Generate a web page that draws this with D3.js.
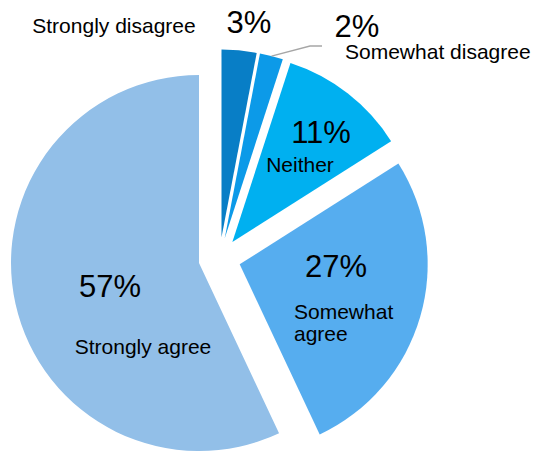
<!DOCTYPE html>
<html>
<head>
<meta charset="utf-8">
<script src="https://cdn.jsdelivr.net/npm/d3@7/dist/d3.min.js"></script>
<style>
  html, body { margin: 0; padding: 0; background: #ffffff; }
  svg { display: block; }
  text { font-family: "Liberation Sans", Arial, sans-serif; fill: #000000; }
</style>
</head>
<body>
<svg id="chart" width="535" height="452"></svg>
<script>
// Survey responses, clockwise from 12 o'clock
const categories = ["Strongly disagree", "Somewhat disagree", "Neither", "Somewhat agree", "Strongly agree"];
const values = [3, 2, 11, 27, 57];
const colors = ["#087EC6", "#0C9AE8", "#00B0F0", "#56ADEF", "#92BFE8"];

const width = 535, height = 452;
const cx = 219.5, cy = 258.5;   // pie centre
const radius = 188;
const explode = 21;             // every slice pulled out by the same distance

const svg = d3.select("#chart");

const pie = d3.pie().sort(null).value(d => d.value).startAngle(0).endAngle(2 * Math.PI);
const arc = d3.arc().innerRadius(0).outerRadius(radius);

const data = categories.map((c, i) => ({ name: c, value: values[i], color: colors[i] }));
const arcs = pie(data);

function offset(a) {
  const mid = (a.startAngle + a.endAngle) / 2;
  return [Math.sin(mid) * explode, -Math.cos(mid) * explode];
}

const g = svg.append("g").attr("transform", `translate(${cx},${cy})`);

g.selectAll("path.slice")
  .data(arcs)
  .join("path")
  .attr("class", "slice")
  .attr("transform", d => `translate(${offset(d)[0]},${offset(d)[1]})`)
  .attr("d", arc)
  .attr("fill", d => d.data.color);

// Leader line for the small "Somewhat disagree" slice
const sd = arcs[1];
const sdMid = (sd.startAngle + sd.endAngle) / 2;
const [ox, oy] = offset(sd);
const p0 = [cx + ox + Math.sin(sdMid) * radius, cy + oy - Math.cos(sdMid) * radius];
svg.append("polyline")
  .attr("points", [p0, [310, 46], [322, 46]].map(p => p.join(",")).join(" "))
  .attr("fill", "none")
  .attr("stroke", "#A6A6A6")
  .attr("stroke-width", 1.3);

const fmt = v => v + "%";
const pctSize = 31, lblSize = 21;

// value labels
const pctPos = [
  { x: 249, y: 33 },
  { x: 357, y: 37 },
  { x: 321, y: 143 },
  { x: 336, y: 277 },
  { x: 110, y: 297 }
];
svg.selectAll("text.pct")
  .data(values)
  .join("text")
  .attr("class", "pct")
  .attr("x", (d, i) => pctPos[i].x)
  .attr("y", (d, i) => pctPos[i].y)
  .attr("text-anchor", "middle")
  .style("font-size", pctSize + "px")
  .text(fmt);

// category labels (some wrap over two lines)
const lblLines = [
  ["Strongly disagree"],
  ["Somewhat disagree"],
  ["Neither"],
  ["Somewhat", "agree"],
  ["Strongly agree"]
];
const lblPos = [
  { x: 114, y: 33, anchor: "middle" },
  { x: 345, y: 59, anchor: "start" },
  { x: 300, y: 172, anchor: "middle" },
  { x: 294, y: 319, anchor: "start" },
  { x: 143, y: 354, anchor: "middle" }
];
svg.selectAll("text.lbl")
  .data(categories)
  .join("text")
  .attr("class", "lbl")
  .attr("x", (d, i) => lblPos[i].x)
  .attr("y", (d, i) => lblPos[i].y)
  .attr("text-anchor", (d, i) => lblPos[i].anchor)
  .style("font-size", lblSize + "px")
  .each(function (d, i) {
    const t = d3.select(this);
    lblLines[i].forEach((line, j) => {
      t.append("tspan")
        .attr("x", lblPos[i].x)
        .attr("dy", j === 0 ? 0 : 22)
        .text(line);
    });
  });
</script>
</body>
</html>
